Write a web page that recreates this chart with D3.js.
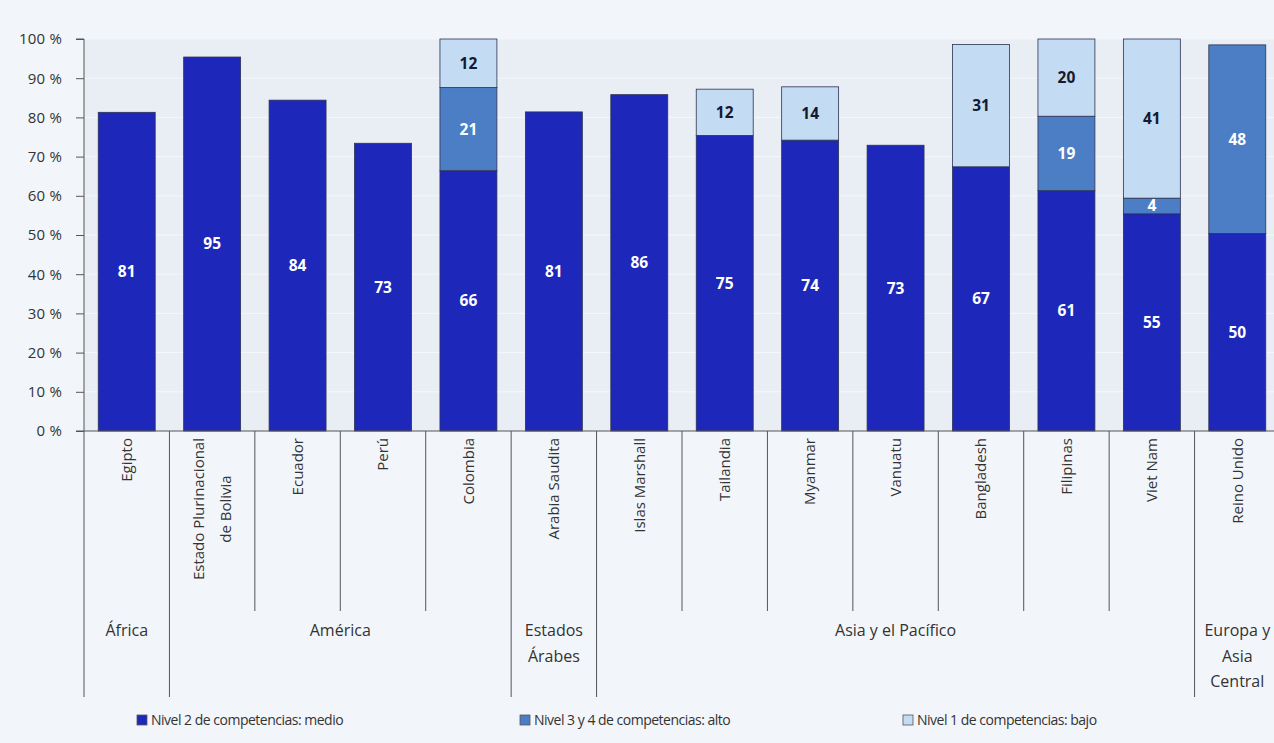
<!DOCTYPE html>
<html>
<head>
<meta charset="utf-8">
<script src="https://cdn.jsdelivr.net/npm/d3@7"></script>
<style>
  body { margin: 0; background: #f2f6fb; }
  svg { display: block; font-family: "Open Sans", "Noto Sans", sans-serif; }
</style>
</head>
<body>
<svg id="chart"></svg>
<script>
const countries = [
  "Egipto", "Estado Plurinacional\nde Bolivia", "Ecuador", "Perú", "Colombia",
  "Arabia Saudita", "Islas Marshall", "Tailandia", "Myanmar", "Vanuatu",
  "Bangladesh", "Filipinas", "Viet Nam", "Reino Unido"
];
const regionNames = [["África"], ["América"], ["Estados", "Árabes"], ["Asia y el Pacífico"], ["Europa y", "Asia", "Central"]];
const regionOf = [0, 1, 1, 1, 1, 2, 3, 3, 3, 3, 3, 3, 3, 4];

// shares in %
const medio = [81.3, 95.4, 84.4, 73.4, 66.4, 81.4, 85.8, 75.4, 74.2, 72.9, 67.4, 61.3, 55.4, 50.4];
const alto  = [0, 0, 0, 0, 21.2, 0, 0, 0, 0, 0, 0, 19.0, 4.0, 48.1];
const bajo  = [0, 0, 0, 0, 12.4, 0, 0, 11.8, 13.6, 0, 31.2, 19.7, 40.6, 0];

const seriesKeys = ["medio", "alto", "bajo"];
const seriesNames = ["Nivel 2 de competencias: medio", "Nivel 3 y 4 de competencias: alto", "Nivel 1 de competencias: bajo"];
const yTicks = [0, 10, 20, 30, 40, 50, 60, 70, 80, 90, 100];

const colors = { medio: "#1d28bb", alto: "#4c7ec5", bajo: "#c3dbf3" };
const labelColors = { medio: "#ffffff", alto: "#ffffff", bajo: "#151a2e" };

const W = 1274, H = 743;
const margin = { left: 84, top: 39, bottom: 431 };

const svg = d3.select("#chart").attr("width", W).attr("height", H);

const rows = countries.map((c, i) => ({ i, medio: medio[i], alto: alto[i], bajo: bajo[i] }));
const stacked = d3.stack().keys(seriesKeys)(rows);

const x = d3.scaleBand()
  .domain(d3.range(countries.length))
  .range([margin.left, 1280])
  .paddingInner(1 / 3)
  .paddingOuter(1 / 6);

const y = d3.scaleLinear().domain([0, 100]).range([margin.bottom, margin.top]);

// plot background
svg.append("rect")
  .attr("x", margin.left).attr("y", y(100))
  .attr("width", W - margin.left).attr("height", y(0) - y(100))
  .attr("fill", "#e9eef5");

// faint gridlines
svg.append("g")
  .selectAll("line")
  .data(yTicks.slice(1))
  .join("line")
  .attr("x1", margin.left).attr("x2", W)
  .attr("y1", d => y(d)).attr("y2", d => y(d))
  .attr("stroke", "#f4f7fb").attr("stroke-width", 1);

// bars
const layers = svg.append("g")
  .selectAll("g")
  .data(stacked)
  .join("g")
  .attr("fill", d => colors[d.key]);

layers.selectAll("rect")
  .data(d => d.filter(s => s[1] - s[0] > 0))
  .join("rect")
  .attr("x", d => x(d.data.i))
  .attr("y", d => y(d[1]))
  .attr("width", x.bandwidth())
  .attr("height", d => y(d[0]) - y(d[1]))
  .attr("stroke", "#2c3152")
  .attr("stroke-width", 0.8);

// value labels
layers.each(function (layer) {
  d3.select(this).selectAll("text")
    .data(layer.filter(s => s[1] - s[0] > 0))
    .join("text")
    .attr("x", d => x(d.data.i) + x.bandwidth() / 2)
    .attr("y", d => y((d[0] + d[1]) / 2))
    .attr("dy", "0.35em")
    .attr("text-anchor", "middle")
    .attr("fill", labelColors[layer.key])
    .attr("font-size", 15.5)
    .attr("font-weight", 700)
    .text(d => Math.round(d[1] - d[0]));
});

// y axis
const yAxis = svg.append("g")
  .attr("transform", `translate(${margin.left},0)`)
  .call(d3.axisLeft(y).tickValues(yTicks).tickSize(8).tickPadding(14).tickFormat(d => d + " %"));
yAxis.select(".domain").attr("stroke", "#555").attr("d", `M-8,${y(100)}H0V${y(0)}`);
yAxis.selectAll(".tick line").attr("stroke", "#555");
yAxis.selectAll(".tick text")
  .attr("font-size", 15)
  .attr("fill", "#333")
  .attr("letter-spacing", "0.2px")
  .attr("font-family", "Open Sans, sans-serif");

// x axis baseline
svg.append("line")
  .attr("x1", margin.left - 8).attr("x2", W)
  .attr("y1", y(0)).attr("y2", y(0))
  .attr("stroke", "#555");

// separators
const step = x.step();
svg.append("g")
  .selectAll("line")
  .data(d3.range(countries.length))
  .join("line")
  .attr("x1", i => x(i) - step / 6).attr("x2", i => x(i) - step / 6)
  .attr("y1", y(0))
  .attr("y2", i => (i === 0 || regionOf[i] !== regionOf[i - 1]) ? 697 : 611)
  .attr("stroke", "#555").attr("stroke-width", 1);

// category labels
const catLabels = svg.append("g")
  .selectAll("g")
  .data(countries)
  .join("g")
  .attr("transform", (d, i) => `translate(${x(i) + x.bandwidth() / 2},438) rotate(-90)`);

catLabels.each(function (label) {
  const lines = label.split("\n");
  const g = d3.select(this);
  const texts = g.selectAll("text")
    .data(lines)
    .join("text")
    .attr("font-size", 15)
    .attr("fill", "#333")
    .attr("text-anchor", "middle")
    .attr("y", (d, k) => (k - (lines.length - 1) / 2) * 27)
    .attr("dy", "0.35em")
    .text(d => d);
  const maxLen = d3.max(texts.nodes(), n => n.getComputedTextLength());
  texts.attr("x", -maxLen / 2);
});

// region labels
const regionSpans = regionNames.map((name, r) => {
  const idx = regionOf.map((v, i) => v === r ? i : -1).filter(i => i >= 0);
  const x0 = x(idx[0]) - step / 6;
  const x1 = x(idx[idx.length - 1]) - step / 6 + step;
  return { name, cx: (x0 + x1) / 2 };
});

svg.append("g")
  .selectAll("text")
  .data(regionSpans)
  .join("text")
  .attr("x", d => d.cx)
  .attr("y", 636)
  .attr("text-anchor", "middle")
  .attr("font-size", 16)
  .attr("fill", "#333")
  .each(function (d) {
    d3.select(this).selectAll("tspan")
      .data(d.name)
      .join("tspan")
      .attr("x", d.cx)
      .attr("dy", (t, k) => k === 0 ? 0 : 25.5)
      .text(t => t);
  });

// legend
const legendX = [137, 520, 903];
const legend = svg.append("g")
  .selectAll("g")
  .data(seriesKeys)
  .join("g")
  .attr("transform", (d, i) => `translate(${legendX[i]},720)`);

legend.append("rect")
  .attr("x", 0).attr("y", -5)
  .attr("width", 10).attr("height", 10)
  .attr("fill", d => colors[d])
  .attr("stroke", "#555").attr("stroke-width", 0.8);

legend.append("text")
  .attr("x", 14).attr("dy", "0.35em")
  .attr("font-size", 14)
  .attr("fill", "#333")
  .attr("letter-spacing", "-0.5px")
  .text((d, i) => seriesNames[i]);
</script>
</body>
</html>
